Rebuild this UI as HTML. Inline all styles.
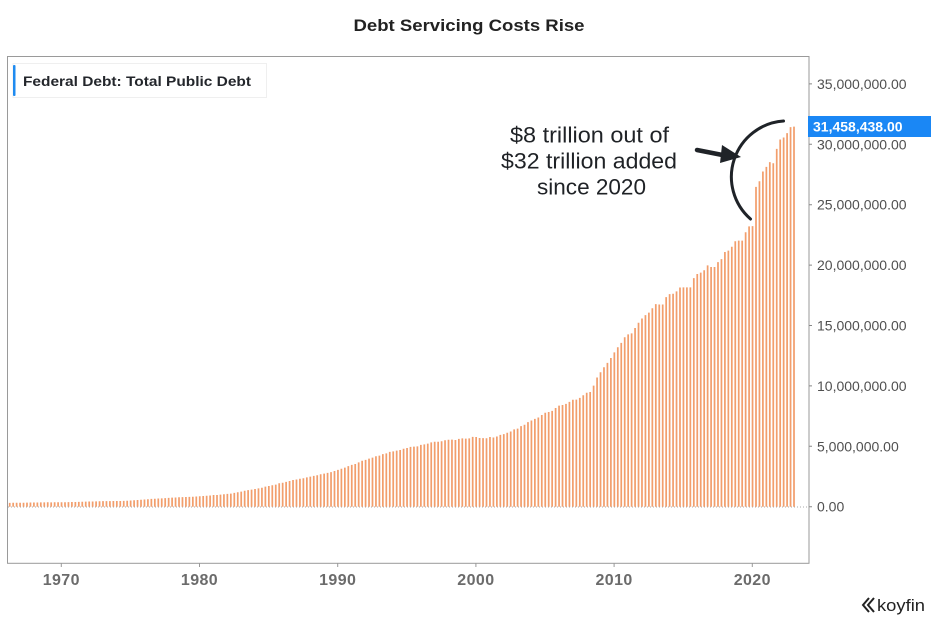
<!DOCTYPE html>
<html><head><meta charset="utf-8"><style>
html,body{margin:0;padding:0;background:#fff;}
svg{display:block;}
text{font-family:"Liberation Sans",Arial,sans-serif;}
</style></head><body>
<svg width="938" height="624" viewBox="0 0 938 624" xmlns="http://www.w3.org/2000/svg">
<rect x="0" y="0" width="938" height="624" fill="#fff"/>
<text x="469" y="31" text-anchor="middle" font-size="17" font-weight="bold" fill="#222" textLength="231" lengthAdjust="spacingAndGlyphs">Debt Servicing Costs Rise</text>
<defs><clipPath id="pc"><rect x="7.5" y="56.5" width="801" height="506"/></clipPath></defs>
<rect x="7.5" y="56.5" width="801.5" height="506.8" fill="none" stroke="#9a9a9a" stroke-width="1"/>
<line x1="8" y1="507" x2="808" y2="507" stroke="#aaa" stroke-width="1" stroke-dasharray="1 2"/>
<g clip-path="url(#pc)">
<g transform="translate(5.4,506.7) scale(3.455,-12.08)" fill="#f29e6c">
<path d="M0 0v.321h.5V0zM1 0v.316h.5V0zM2 0v.325h.5V0zM3 0v.329h.5V0zM4 0v.331h.5V0zM5 0v.323h.5V0zM6 0v.337h.5V0zM7 0v.345h.5V0zM8 0v.348h.5V0zM9 0v.348h.5V0zM10 0v.358h.5V0zM11 0v.361h.5V0zM12 0v.365h.5V0zM13 0v.353h.5V0zM14 0v.364h.5V0zM15 0v.367h.5V0zM16 0v.372h.5V0zM17 0v.371h.5V0zM18 0v.383h.5V0zM19 0v.389h.5V0zM20 0v.391h.5V0zM21 0v.398h.5V0zM22 0v.412h.5V0zM23 0v.424h.5V0zM24 0v.428h.5V0zM25 0v.427h.5V0zM26 0v.436h.5V0zM27 0v.449h.5V0zM28 0v.458h.5V0zM29 0v.458h.5V0zM30 0v.466h.5V0zM31 0v.47h.5V0zM32 0v.474h.5V0zM33 0v.475h.5V0zM34 0v.483h.5V0zM35 0v.493h.5V0zM36 0v.509h.5V0zM37 0v.533h.5V0zM38 0v.556h.5V0zM39 0v.576h.5V0zM40 0v.6h.5V0zM41 0v.621h.5V0zM42 0v.646h.5V0zM43 0v.653h.5V0zM44 0v.68h.5V0zM45 0v.686h.5V0zM46 0v.709h.5V0zM47 0v.729h.5V0zM48 0v.75h.5V0zM49 0v.763h.5V0zM50 0v.78h.5V0zM51 0v.79h.5V0zM52 0v.805h.5V0zM53 0v.812h.5V0zM54 0v.827h.5V0zM55 0v.845h.5V0zM56 0v.864h.5V0zM57 0v.883h.5V0zM58 0v.908h.5V0zM59 0v.93h.5V0zM60 0v.965h.5V0zM61 0v.971h.5V0zM62 0v.998h.5V0zM63 0v1.028h.5V0zM64 0v1.061h.5V0zM65 0v1.08h.5V0zM66 0v1.143h.5V0zM67 0v1.197h.5V0zM68 0v1.245h.5V0zM69 0v1.319h.5V0zM70 0v1.377h.5V0zM71 0v1.411h.5V0zM72 0v1.464h.5V0zM73 0v1.518h.5V0zM74 0v1.572h.5V0zM75 0v1.663h.5V0zM76 0v1.71h.5V0zM77 0v1.775h.5V0zM78 0v1.823h.5V0zM79 0v1.945h.5V0zM80 0v1.986h.5V0zM81 0v2.059h.5V0zM82 0v2.125h.5V0zM83 0v2.214h.5V0zM84 0v2.25h.5V0zM85 0v2.313h.5V0zM86 0v2.35h.5V0zM87 0v2.432h.5V0zM88 0v2.493h.5V0zM89 0v2.547h.5V0zM90 0v2.602h.5V0zM91 0v2.684h.5V0zM92 0v2.74h.5V0zM93 0v2.799h.5V0zM94 0v2.857h.5V0zM95 0v2.953h.5V0zM96 0v3.052h.5V0zM97 0v3.143h.5V0zM98 0v3.233h.5V0zM99 0v3.364h.5V0zM100 0v3.465h.5V0zM101 0v3.538h.5V0zM102 0v3.665h.5V0zM103 0v3.802h.5V0zM104 0v3.881h.5V0zM105 0v3.984h.5V0zM106 0v4.065h.5V0zM107 0v4.177h.5V0zM108 0v4.23h.5V0zM109 0v4.352h.5V0zM110 0v4.411h.5V0zM111 0v4.536h.5V0zM112 0v4.576h.5V0zM113 0v4.646h.5V0zM114 0v4.692h.5V0zM115 0v4.8h.5V0zM116 0v4.864h.5V0zM117 0v4.951h.5V0zM118 0v4.974h.5V0zM119 0v4.989h.5V0zM120 0v5.118h.5V0zM121 0v5.161h.5V0zM122 0v5.225h.5V0zM123 0v5.323h.5V0zM124 0v5.381h.5V0zM125 0v5.376h.5V0zM126 0v5.413h.5V0zM127 0v5.502h.5V0zM128 0v5.542h.5V0zM129 0v5.548h.5V0zM130 0v5.526h.5V0zM131 0v5.614h.5V0zM132 0v5.652h.5V0zM133 0v5.638h.5V0zM134 0v5.656h.5V0zM135 0v5.776h.5V0zM136 0v5.773h.5V0zM137 0v5.686h.5V0zM138 0v5.674h.5V0zM139 0v5.662h.5V0zM140 0v5.773h.5V0zM141 0v5.727h.5V0zM142 0v5.807h.5V0zM143 0v5.943h.5V0zM144 0v6.006h.5V0zM145 0v6.126h.5V0zM146 0v6.228h.5V0zM147 0v6.405h.5V0zM148 0v6.46h.5V0zM149 0v6.67h.5V0zM150 0v6.783h.5V0zM151 0v6.998h.5V0zM152 0v7.131h.5V0zM153 0v7.274h.5V0zM154 0v7.379h.5V0zM155 0v7.596h.5V0zM156 0v7.776h.5V0zM157 0v7.836h.5V0zM158 0v7.933h.5V0zM159 0v8.17h.5V0zM160 0v8.371h.5V0zM161 0v8.42h.5V0zM162 0v8.507h.5V0zM163 0v8.68h.5V0zM164 0v8.849h.5V0zM165 0v8.867h.5V0zM166 0v9.008h.5V0zM167 0v9.229h.5V0zM168 0v9.437h.5V0zM169 0v9.492h.5V0zM170 0v10.025h.5V0zM171 0v10.7h.5V0zM172 0v11.127h.5V0zM173 0v11.545h.5V0zM174 0v11.91h.5V0zM175 0v12.311h.5V0zM176 0v12.773h.5V0zM177 0v13.202h.5V0zM178 0v13.562h.5V0zM179 0v14.025h.5V0zM180 0v14.27h.5V0zM181 0v14.343h.5V0zM182 0v14.79h.5V0zM183 0v15.223h.5V0zM184 0v15.582h.5V0zM185 0v15.856h.5V0zM186 0v16.066h.5V0zM187 0v16.433h.5V0zM188 0v16.771h.5V0zM189 0v16.738h.5V0zM190 0v16.738h.5V0zM191 0v17.352h.5V0zM192 0v17.601h.5V0zM193 0v17.633h.5V0zM194 0v17.824h.5V0zM195 0v18.141h.5V0zM196 0v18.152h.5V0zM197 0v18.152h.5V0zM198 0v18.151h.5V0zM199 0v18.922h.5V0zM200 0v19.264h.5V0zM201 0v19.381h.5V0zM202 0v19.573h.5V0zM203 0v19.976h.5V0zM204 0v19.846h.5V0zM205 0v19.845h.5V0zM206 0v20.245h.5V0zM207 0v20.493h.5V0zM208 0v21.089h.5V0zM209 0v21.195h.5V0zM210 0v21.516h.5V0zM211 0v21.974h.5V0zM212 0v22.028h.5V0zM213 0v22.023h.5V0zM214 0v22.719h.5V0zM215 0v23.201h.5V0zM216 0v23.224h.5V0zM217 0v26.477h.5V0zM218 0v26.945h.5V0zM219 0v27.748h.5V0zM220 0v28.133h.5V0zM221 0v28.529h.5V0zM222 0v28.428h.5V0zM223 0v29.617h.5V0zM224 0v30.401h.5V0zM225 0v30.568h.5V0zM226 0v30.929h.5V0zM227 0v31.42h.5V0zM228 0v31.458h.5V0z"/>
</g>
</g>
<rect x="13" y="63.5" width="253.5" height="34" fill="#fff" stroke="#efefef" stroke-width="1"/>
<rect x="13" y="65" width="2.5" height="31" rx="1" fill="#1f8bf0"/>
<text x="23" y="86" font-size="14" font-weight="bold" fill="#23262b" textLength="228" lengthAdjust="spacingAndGlyphs">Federal Debt: Total Public Debt</text>
<path d="M809 506.7h3M809 446.3h3M809 385.9h3M809 325.5h3M809 265.1h3M809 204.7h3M809 144.3h3M809 83.9h3" stroke="#888" stroke-width="1"/>
<g font-size="14" fill="#505050">
<text x="817" y="511.7">0.00</text>
<text x="817" y="451.3">5,000,000.00</text>
<text x="817" y="390.9">10,000,000.00</text>
<text x="817" y="330.5">15,000,000.00</text>
<text x="817" y="270.1">20,000,000.00</text>
<text x="817" y="209.7">25,000,000.00</text>
<text x="817" y="149.3">30,000,000.00</text>
<text x="817" y="88.9">35,000,000.00</text>
</g>
<rect x="808" y="116" width="123" height="21" fill="#1a87f5"/>
<text x="813" y="131.5" font-size="14" font-weight="bold" fill="#fff">31,458,438.00</text>
<path d="M61.3 563v4M199.5 563v4M337.7 563v4M475.9 563v4M614.1 563v4M752.3 563v4" stroke="#999" stroke-width="1"/>
<g font-size="16" font-weight="bold" fill="#6b6b6b" text-anchor="middle" letter-spacing="0.4">
<text x="61.3" y="585">1970</text>
<text x="199.5" y="585">1980</text>
<text x="337.7" y="585">1990</text>
<text x="475.9" y="585">2000</text>
<text x="614.1" y="585">2010</text>
<text x="752.3" y="585">2020</text>
</g>
<g font-size="22" fill="#1f2226">
<text x="510" y="142.7" textLength="159" lengthAdjust="spacingAndGlyphs">$8 trillion out of</text>
<text x="501" y="168.3" textLength="176" lengthAdjust="spacingAndGlyphs">$32 trillion added</text>
<text x="537" y="194.3" textLength="109" lengthAdjust="spacingAndGlyphs">since 2020</text>
</g>
<line x1="697" y1="150" x2="725" y2="155.5" stroke="#1f2328" stroke-width="4.5" stroke-linecap="round"/>
<polygon points="722,145 741,157 720,163" fill="#1f2328"/>
<path d="M783.5,121 A56,56 0 0 0 750.5,219" fill="none" stroke="#1f2328" stroke-width="3" stroke-linecap="round"/>
<path d="M869 598l-6 7 6 7M874 598l-6 7 6 7" fill="none" stroke="#222" stroke-width="2"/>
<text x="877" y="611" font-size="17" fill="#222" textLength="48" lengthAdjust="spacingAndGlyphs">koyfin</text>
</svg>
</body></html>
